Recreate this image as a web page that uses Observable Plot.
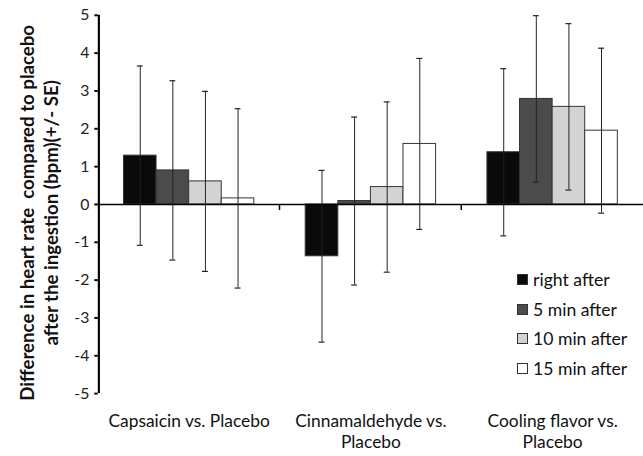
<!DOCTYPE html>
<html><head><meta charset="utf-8">
<script src="https://cdn.jsdelivr.net/npm/d3@7"></script>
<script src="https://cdn.jsdelivr.net/npm/@observablehq/plot@0.6"></script>
<style>
html,body{margin:0;padding:0;background:#fff;overflow:hidden;}
#wrap{position:relative;width:643px;height:456px;overflow:hidden;}
#wrap svg{position:absolute;left:0;top:0;}
.legend{position:absolute;left:517px;top:264.5px;font-family:Lato,sans-serif;font-size:17.6px;color:#111;}
.legend .row{height:29.7px;display:flex;align-items:center;}
.legend .sw{width:9px;height:9px;border:1px solid #333;margin-right:5px;}
</style></head><body><div id="wrap"></div>
<script>
const categories = ["Capsaicin vs. Placebo", "Cinnamaldehyde vs. Placebo", "Cooling flavor vs. Placebo"];
const categoryLabels = ["Capsaicin vs. Placebo", "Cinnamaldehyde vs.\nPlacebo", "Cooling flavor vs.\nPlacebo"];
const series = ["right after", "5 min after", "10 min after", "15 min after"];
const seriesColors = ["#0a0a0a", "#4b4b4b", "#d3d3d3", "#ffffff"];
const capsaicinMean = [1.29, 0.90, 0.61, 0.16];
const capsaicinSE = [2.37, 2.37, 2.38, 2.37];
const cinnamaldehydeMean = [-1.37, 0.09, 0.46, 1.60];
const cinnamaldehydeSE = [2.27, 2.22, 2.25, 2.26];
const coolingMean = [1.38, 2.79, 2.58, 1.95];
const coolingSE = [2.21, 2.20, 2.20, 2.18];
const yTicks = [-5, -4, -3, -2, -1, 0, 1, 2, 3, 4, 5];
const yLabel = "Difference in heart rate  compared to placebo\nafter the ingestion (bpm)(+/- SE)";

const means = [capsaicinMean, cinnamaldehydeMean, coolingMean];
const ses = [capsaicinSE, cinnamaldehydeSE, coolingSE];
const rows = [];
categories.forEach((c, i) => series.forEach((s, j) => {
  rows.push({cat: c, series: s, value: means[i][j], lo: means[i][j] - ses[i][j], hi: means[i][j] + ses[i][j]});
}));

const chart = Plot.plot({
  width: 651, height: 456,
  marginLeft: 98, marginRight: 0, marginTop: 15, marginBottom: 58,
  style: {fontFamily: "Lato, sans-serif", fontSize: "16px", background: "#fff"},
  fx: {domain: categories, padding: 0, axis: null},
  x: {domain: series, paddingInner: 0, paddingOuter: 0.75, axis: null},
  y: {domain: [-5, 5], axis: null},
  color: {domain: series, range: seriesColors},
  marks: [
    Plot.barY(rows, {fx: "cat", x: "series", y: "value", fill: "series", stroke: "#333", strokeWidth: 1}),
    Plot.ruleX(rows, {fx: "cat", x: "series", y1: "lo", y2: "hi", stroke: "#222", strokeWidth: 1}),
    Plot.tickY(rows, {fx: "cat", x: "series", y: "hi", stroke: "#222", strokeWidth: 1.2, insetLeft: 13.5, insetRight: 13.5}),
    Plot.tickY(rows, {fx: "cat", x: "series", y: "lo", stroke: "#222", strokeWidth: 1.2, insetLeft: 13.5, insetRight: 13.5}),
    Plot.ruleY([0], {stroke: "#000", strokeWidth: 1.5}),
    Plot.ruleX([categories[0], categories[1]], {fx: d => d, x: () => series[3], y1: 0, y2: -0.16, dx: 42, stroke: "#000", strokeWidth: 1.5}),
    Plot.ruleX([categories[0]], {fx: d => d, x: () => series[0], y1: -5, y2: 5, dx: -41.9, stroke: "#000", strokeWidth: 2.2}),
    Plot.axisY({ticks: yTicks, tickFormat: d => String(d), tickSize: 3.5, tickPadding: 5.5, label: null, stroke: "#000", strokeWidth: 2, fill: "#222", fontSize: 16}),
    Plot.text([yLabel], {fx: () => categories[0], text: d => d, frameAnchor: "left", textAnchor: "middle", lineAnchor: "middle", rotate: -90, dx: -61, dy: 8.5, fontWeight: "bold", fontSize: 18.9, lineHeight: 1.32, fill: "#111"}),
    Plot.text(categories, {fx: d => d, text: (d, i) => categoryLabels[i], frameAnchor: "bottom", lineAnchor: "top", dy: 18.5, fontSize: 17.6, lineHeight: 1.21, fill: "#111"})
  ]
});
const wrap = document.getElementById("wrap");
wrap.appendChild(chart);
const leg = document.createElement("div");
leg.className = "legend";
series.forEach((s, i) => {
  const r = document.createElement("div"); r.className = "row";
  const sw = document.createElement("span"); sw.className = "sw"; sw.style.background = seriesColors[i];
  const t = document.createElement("span"); t.textContent = s;
  r.appendChild(sw); r.appendChild(t); leg.appendChild(r);
});
wrap.appendChild(leg);
</script></body></html>
